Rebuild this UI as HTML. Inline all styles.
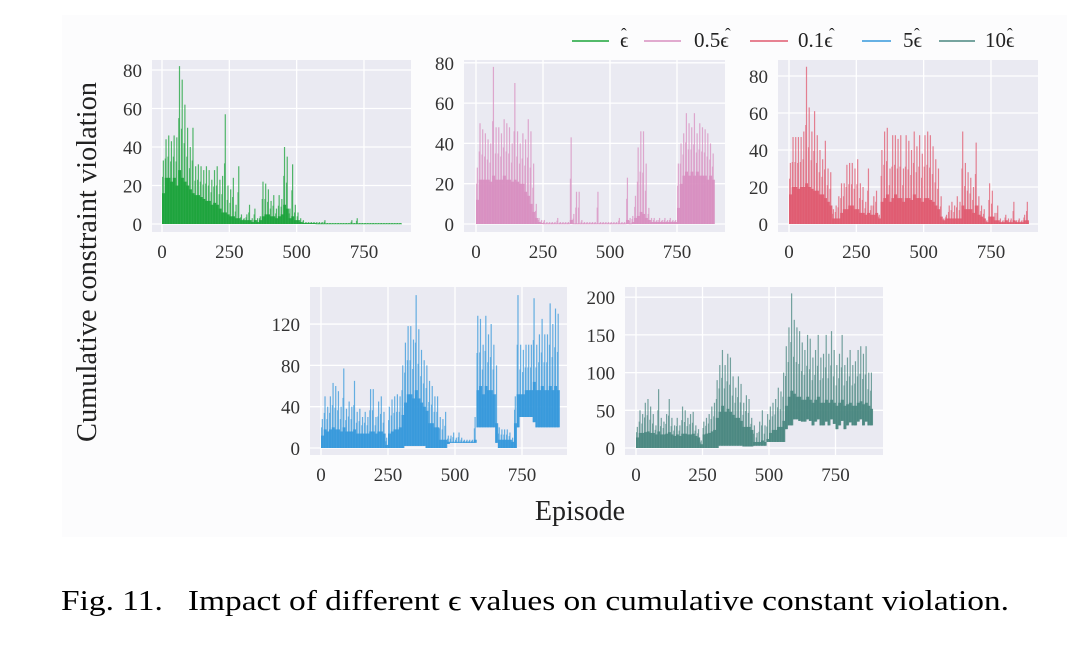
<!DOCTYPE html>
<html><head><meta charset="utf-8">
<style>
html,body{margin:0;padding:0;background:#fff;}
body{width:1080px;height:644px;overflow:hidden;position:relative;font-family:"Liberation Serif",serif;}
svg text{font-family:"Liberation Serif",serif;}
</style></head>
<body>
<svg id="fig" width="1080" height="644" viewBox="0 0 1080 644" xmlns="http://www.w3.org/2000/svg">
<rect x="62" y="15" width="1005" height="522" fill="#fcfcfd"/>
<g id="panels"></g>
<g font-size="21" fill="#222">
 <g><line x1="572" y1="41" x2="609" y2="41" stroke="#1ba33a" stroke-width="1.5"/><text x="620" y="47">ϵ</text><text x="621" y="40" font-size="17">ˆ</text></g>
 <g><line x1="644" y1="41" x2="681" y2="41" stroke="#d88fc0" stroke-width="1.5"/><text x="694" y="47">0.5ϵ</text><text x="725" y="40" font-size="17">ˆ</text></g>
 <g><line x1="750" y1="41" x2="788" y2="41" stroke="#e05a6f" stroke-width="1.5"/><text x="798" y="47">0.1ϵ</text><text x="829" y="40" font-size="17">ˆ</text></g>
 <g><line x1="862" y1="41" x2="891" y2="41" stroke="#3598db" stroke-width="1.5"/><text x="903" y="47">5ϵ</text><text x="914" y="40" font-size="17">ˆ</text></g>
 <g><line x1="939" y1="41" x2="975" y2="41" stroke="#4a8780" stroke-width="1.5"/><text x="985" y="47">10ϵ</text><text x="1007" y="40" font-size="17">ˆ</text></g>
</g>
<text transform="translate(96,262) rotate(-90)" text-anchor="middle" font-size="28" textLength="360" lengthAdjust="spacingAndGlyphs" fill="#222">Cumulative constraint violation</text>
<text x="580" y="520" text-anchor="middle" font-size="28" fill="#222">Episode</text>
<text x="61" y="610" font-size="29" textLength="948" lengthAdjust="spacingAndGlyphs" fill="#000" xml:space="preserve">Fig. 11.   Impact of different ϵ values on cumulative constant violation.</text>
</svg>
<script>
// bin i covers episodes 10i..10i+9
const binEpisodes = Array.from({length:89},(_,i)=>i*10);
const xTicks = [0,250,500,750];
const greenPeak = [33,44,46,43,46,45,82,75,62,50, 40,50,30,31,30,28,30,28,23,28, 30,23,25,57,20,18,24,10,30,5, 3,5,10,3,8,3,4,22,21,18, 12,15,8,15,13,40,35,8,31,10, 6,3,2,1,1,1,1,1,1,1, 2,.5,.5,.5,.5,.5,.5,.5,.5,.5, 2,.5,3,.5,.5,.5,.5,.5,.5,.5, .5,.5,.5,.5,.5,.5,.5,.5,.5];
const greenMid  = [16,24,24,22,24,20,28,24,22,20, 18,16,15,15,14,13,12,12,10,11, 10,8,6,6,5,4,4,3,3,2, 2,2,2,1,2,1,2,4,5,5, 4,4,3,4,5,10,8,3,4,2, 2,1,.5,.5,.5,.5,.5,.3,.3,.3, .3,.3,.3,.3,.3,.3,.3,.3,.3,.3, .3,.3,.3,.3,.3,.3,.3,.3,.3,.3, .3,.3,.3,.3,.3,.3,.3,.3,.3];
const pinkPeak = [28,50,47,45,42,40,78,48,48,45, 52,50,48,40,70,46,40,45,42,52, 46,30,10,3,2,2,1,1,1,1, 3,1,1,1,1,43,5,16,16,2, 1,1,1,1,1,16,1,1,1,1, 1,1,1,3,1,1,23,3,4,14, 38,46,46,30,8,3,3,2,3,2, 3,2,3,2,2,30,40,45,55,50, 48,55,45,50,48,47,45,40,35];
const pinkMid  = [12,22,22,22,22,21,24,22,22,22, 24,22,22,21,22,21,20,20,16,14, 10,6,3,1,.5,.3,.3,.3,.3,.3, .3,.3,.3,.3,.3,2,.3,.3,.3,.3, .3,.3,.3,.3,.3,.3,.3,.3,.3,.3, .3,.3,.3,.3,.3,.3,2,.3,1,3, 4,6,5,3,2,1,1,1,1,1, 1,1,1,1,1,8,20,24,26,24, 26,24,26,24,24,24,22,24,22];
const redPeak = [33,47,47,47,47,50,85,63,50,61, 48,40,35,45,30,28,8,10,15,22, 22,32,33,33,30,35,22,20,12,30, 10,15,18,5,40,50,52,30,48,48, 46,48,30,48,45,40,50,42,48,38, 48,50,48,42,35,30,15,3,5,10, 12,10,15,12,50,33,28,25,20,44, 15,10,8,2,22,18,6,10,3,2, 5,3,3,12,2,3,2,5,12];
const redMid  = [16,20,20,19,20,20,22,20,19,18, 18,16,16,14,12,10,3,3,3,6, 8,8,10,10,8,8,6,6,5,6, 5,5,6,3,12,14,16,12,14,16, 14,14,12,14,14,13,16,14,14,12, 14,14,13,12,10,8,4,2,3,3, 3,3,3,3,10,8,8,8,6,10, 5,4,3,1,4,4,2,2,1,1, 2,1,1,2,1,1,1,2,2];
const bluePeak = [28,50,40,50,63,60,55,40,77,38, 45,40,65,35,38,30,35,30,57,57, 30,45,50,35,10,40,47,50,52,50, 80,102,118,118,105,148,115,95,85,80, 65,60,50,50,30,28,35,12,12,15, 10,15,10,8,8,8,8,30,128,125, 100,128,110,120,100,80,20,18,18,18, 15,10,50,148,100,95,100,100,100,145, 100,110,125,110,110,140,120,135,130];
const blueMid  = [12,18,16,18,20,18,18,16,20,16, 16,16,18,14,14,14,14,14,16,16, 14,16,16,14,3,14,16,18,18,20, 32,44,52,52,48,56,48,44,40,36, 24,24,20,20,8,8,8,6,6,6, 6,6,6,6,6,6,6,8,56,60, 52,60,56,56,52,24,8,8,8,8, 8,6,24,52,52,52,56,56,56,64, 56,56,60,56,56,60,56,60,56];
const blueFloor = [0,0,0,0,0,0,0,0,0,0, 0,0,0,0,0,0,0,0,0,0, 0,0,0,0,0,0,0,0,0,0, 0,2,2,2,2,2,2,2,2,0, 0,0,0,0,0,0,0,4,5,5, 5,5,5,5,5,5,5,5,20,20, 20,20,20,20,20,5,0,0,0,0, 0,0,0,20,30,30,30,30,30,25, 20,20,20,20,20,20,20,20,20];
const tealPeak = [28,50,45,60,65,55,45,30,78,40, 35,45,65,40,30,40,30,55,50,40, 45,48,30,25,10,35,40,45,55,60, 90,110,130,110,125,120,95,80,95,85, 60,70,65,40,30,20,35,50,30,45, 55,60,65,80,75,100,135,160,205,170, 160,155,140,130,150,145,120,130,150,120, 125,150,125,155,130,110,125,150,110,120, 130,110,115,130,135,125,135,100,100];
const tealMid  = [14,20,20,21,22,20,20,18,22,18, 18,19,21,18,16,18,16,19,19,18, 18,19,16,14,5,18,19,20,22,24, 40,48,56,48,52,48,44,40,40,36, 28,28,28,24,8,8,8,10,8,12, 20,24,24,28,28,36,56,68,76,72, 68,68,64,64,68,64,60,64,68,60, 60,64,60,64,60,56,60,64,56,58, 60,56,56,60,62,58,60,56,52];
const tealFloor = [0,0,0,0,0,0,0,0,0,0, 0,0,0,0,0,0,0,0,0,0, 0,0,0,0,0,0,0,0,0,0, 0,3,3,3,3,3,3,3,3,3, 2,2,2,2,3,3,3,3,3,8, 8,8,8,8,8,8,25,30,30,38, 38,36,35,35,38,36,30,35,38,30, 30,35,30,38,32,25,30,36,25,30, 34,30,30,35,38,30,35,30,30];

const panels = [
 {name:'eps',  color:'#1ba33a', peak:greenPeak, mid:greenMid, floor:null, bx:152,by:60,bw:259,bh:172, x0:162,xs:0.2693, y0:224,ys:1.925, yTicks:[0,20,40,60,80]},
 {name:'0.5eps',color:'#d88fc0', peak:pinkPeak, mid:pinkMid, floor:null, bx:464,by:60,bw:261,bh:172, x0:476,xs:0.268, y0:224,ys:2.015, yTicks:[0,20,40,60,80]},
 {name:'0.1eps',color:'#e05a6f', peak:redPeak, mid:redMid, floor:null, bx:778,by:60,bw:260,bh:172, x0:789,xs:0.2693, y0:224,ys:1.85, yTicks:[0,20,40,60,80]},
 {name:'5eps', color:'#3598db', peak:bluePeak, mid:blueMid, floor:blueFloor, bx:310,by:287,bw:257,bh:168, x0:321,xs:0.268, y0:448,ys:1.033, yTicks:[0,40,80,120]},
 {name:'10eps',color:'#4a8780', peak:tealPeak, mid:tealMid, floor:tealFloor, bx:625,by:287,bw:258,bh:168, x0:636,xs:0.266, y0:448,ys:0.754, yTicks:[0,50,100,150,200]}
];
const NS='http://www.w3.org/2000/svg';
function mk(tag, attrs, parent){const e=document.createElementNS(NS,tag);for(const k in attrs)e.setAttribute(k,attrs[k]);parent.appendChild(e);return e;}
const root=document.getElementById('panels');
panels.forEach(p=>{
  const g=mk('g',{},root);
  
  
  const xS=v=>p.x0+v*p.xs, yS=v=>p.y0-v*p.ys;
  const bg=mk('rect',{x:p.bx,y:p.by,width:p.bw,height:p.bh,fill:'#eaeaf2'},g);
  
  
  xTicks.forEach(t=>{
    const l=mk('line',{x1:xS(t),x2:xS(t),y1:p.by,y2:p.by+p.bh,stroke:'#fff','stroke-width':1.3},g);
    
    
    const tx=mk('text',{x:xS(t),y:p.by+p.bh+26,'text-anchor':'middle','font-size':19,fill:'#333'},g);
    tx.textContent=t;
    
    
  });
  p.yTicks.forEach(t=>{
    const l=mk('line',{x1:p.bx,x2:p.bx+p.bw,y1:yS(t),y2:yS(t),stroke:'#fff','stroke-width':1.3},g);
    
    
    const tx=mk('text',{x:p.bx-10,y:yS(t)+7,'text-anchor':'end','font-size':19,fill:'#333'},g);
    tx.textContent=t;
    
    
  });
  const sg=mk('g',{},g);
  
  
  const w=10*p.xs;
  binEpisodes.forEach((ep,i)=>{
    const fl=p.floor?p.floor[i]:0;
    const m=Math.max(p.mid[i],fl);
    const r=mk('rect',{x:xS(ep),y:yS(m),width:w+0.3,height:Math.max(0.8,(m-fl)*p.ys),fill:p.color,'fill-opacity':0.9},sg);
    
    
    const xc=xS(ep+5);
    const spike=mk('line',{x1:xc,x2:xc,y1:yS(fl),y2:yS(p.peak[i]),stroke:p.color,'stroke-width':1.2,'stroke-opacity':0.75},sg);
    
    
    const xc2=xS(ep+2);
    const spike2=mk('line',{x1:xc2,x2:xc2,y1:yS(fl),y2:yS((p.peak[i]+m)/2),stroke:p.color,'stroke-width':1,'stroke-opacity':0.7},sg);
    
    
  });
});
</script>
</body></html>
